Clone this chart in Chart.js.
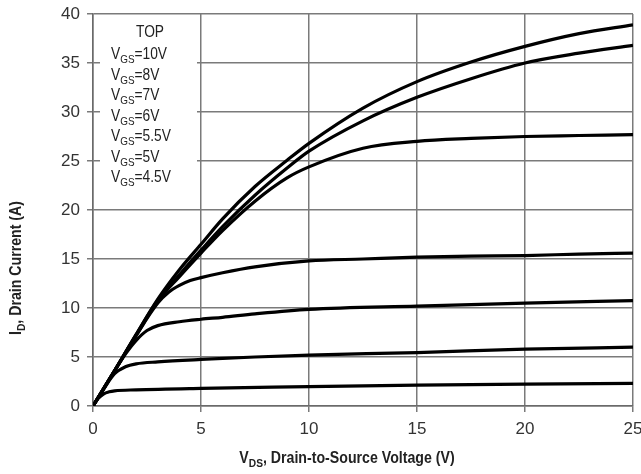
<!DOCTYPE html>
<html>
<head>
<meta charset="utf-8">
<script src="https://cdn.jsdelivr.net/npm/chart.js@4"></script>
<style>
html,body{margin:0;padding:0;background:#fff}
</style>
</head>
<body>
<canvas id="outputChart" width="641" height="474"></canvas>
<script>

// output characteristics, one curve per gate voltage (top to bottom)
let vgsLabels = ["10V","8V","7V","6V","5.5V","5V","4.5V"]

let vds10 = [0,1,2,3,4,5,6,7.5,9,10,12.5,15,17.5,20,22.5,25]
let id10  = [0,3.6,7.3,10.9,13.9,16.5,19.1,22.4,25.1,26.8,30.4,33.1,35.1,36.7,38.0,38.9]

let vds8 = [0,1,2,3,4,5,6,7.5,9,10,12.5,15,17.5,20,22.5,25]
let id8  = [0,3.6,7.3,10.8,13.4,15.9,18.3,21.5,24.3,26.0,29.1,31.5,33.4,35.0,36.0,36.8]

let vds7 = [0,1,2,3,4,5,6,7.5,9,10,12.5,15,17.5,20,22.5,25]
let id7  = [0,3.6,7.2,10.7,13.2,15.6,17.9,20.9,23.3,24.4,26.3,27.0,27.3,27.5,27.6,27.7]

let vds6 = [0,1,2,3,3.5,4,4.5,5,6,7.5,10,12.5,15,17.5,20,22.5,25]
let id6  = [0,3.6,7.2,10.5,11.6,12.3,12.8,13.1,13.6,14.2,14.8,15.0,15.2,15.3,15.35,15.5,15.6]

let vds55 = [0,0.5,1,1.5,2,2.5,3,4,5,6,7.5,10,15,20,25]
let id55  = [0,1.8,3.6,5.3,6.7,7.7,8.2,8.6,8.85,9.05,9.4,9.86,10.2,10.5,10.75]

let vds5 = [0,0.5,1,1.5,2,3,5,7.5,10,15,20,25]
let id5  = [0,1.75,3.3,4.0,4.3,4.5,4.75,5.0,5.2,5.45,5.8,6.0]

let vds45 = [0,0.25,0.5,0.75,1,2,5,10,15,20,25]
let id45  = [0,0.8,1.25,1.45,1.55,1.65,1.8,1.97,2.14,2.24,2.3]

let xTicks = [0,5,10,15,20,25]
let yTicks = [0,5,10,15,20,25,30,35,40]

let curves = [
[vds10,id10],[vds8,id8],[vds7,id7],[vds6,id6],[vds55,id55],[vds5,id5],[vds45,id45]
]

let FONT = '"Liberation Sans", Arial, sans-serif'


// text with subscripts, squeezed sideways by hs
function drawRich(ctx,parts,x,y,size,bold,align,hs){

let f = s => (bold ? "bold " : "") + s + "px " + FONT

let w = 0
parts.forEach(p => {
ctx.font = f(p[1] ? size*0.72 : size)
w += ctx.measureText(p[0]).width
})

ctx.save()
ctx.translate(x,y)
ctx.scale(hs,1)

let cx = align=="center" ? -w/2 : 0

ctx.textAlign = "left"
ctx.textBaseline = "alphabetic"

parts.forEach(p => {
ctx.font = f(p[1] ? size*0.72 : size)
ctx.fillText(p[0], cx, p[1] ? size*0.28 : 0)
cx += ctx.measureText(p[0]).width
})

ctx.restore()

}


let textPlugin = {

id:"textPlugin",

beforeDatasetsDraw(chart){

let ctx = chart.ctx
let x = chart.scales.x
let y = chart.scales.y

// white box behind the gate voltage list
ctx.save()
ctx.fillStyle = "#fff"
ctx.fillRect(x.left+7, y.top+1, 97, 174)
ctx.restore()

},

afterDraw(chart){

let ctx = chart.ctx

ctx.save()
ctx.fillStyle = "#222"

drawRich(ctx,[["TOP",false]],150,37,16,false,"center",0.86)

vgsLabels.forEach((v,i) => {
drawRich(ctx,[["V",false],["GS",true],["="+v,false]],111,59+i*20.5,16,false,"left",0.86)
})

drawRich(ctx,[["V",false],["DS",true],[", Drain-to-Source Voltage (V)",false]],347,463,16,true,"center",0.885)

ctx.translate(21,268)
ctx.rotate(-Math.PI/2)
drawRich(ctx,[["I",false],["D",true],[", Drain Current (A)",false]],0,0,16,true,"center",0.885)

ctx.restore()

}

}


new Chart(document.getElementById("outputChart"),{

type:"line",

data:{

datasets: curves.map((c,i) => ({
label:"VGS=" + vgsLabels[i],
data:c[0].map((v,j) => ({x:v, y:c[1][j]})),
borderColor:"#000",
borderWidth:3.2,
pointRadius:0,
fill:false,
cubicInterpolationMode:"monotone"
}))

},

options:{

responsive:false,
animation:false,
layout:{padding:{top:14,right:8,left:0,bottom:0}},

plugins:{
legend:{display:false},
tooltip:{enabled:false}
},

scales:{

x:{
type:"linear",
min:0,
max:25,
afterFit(s){ s.height = 68; s.paddingLeft = 0; s.paddingRight = 0 },
afterBuildTicks(s){ s.ticks = xTicks.map(v => ({value:v})) },
grid:{color:"#7a7a7a", lineWidth:1.5, tickLength:6},
border:{color:"#6a6a6a", width:1.5},
ticks:{color:"#333", padding:7, font:{family:FONT, size:17}}
},

y:{
min:0,
max:40,
afterFit(s){ s.width = 93; s.paddingTop = 0; s.paddingBottom = 0 },
afterBuildTicks(s){ s.ticks = yTicks.map(v => ({value:v})) },
grid:{color:"#7a7a7a", lineWidth:1.5, tickLength:6},
border:{color:"#6a6a6a", width:1.5},
ticks:{color:"#333", padding:7, font:{family:FONT, size:17}}
}

}

},

plugins:[textPlugin]

})

</script>
</body>
</html>
